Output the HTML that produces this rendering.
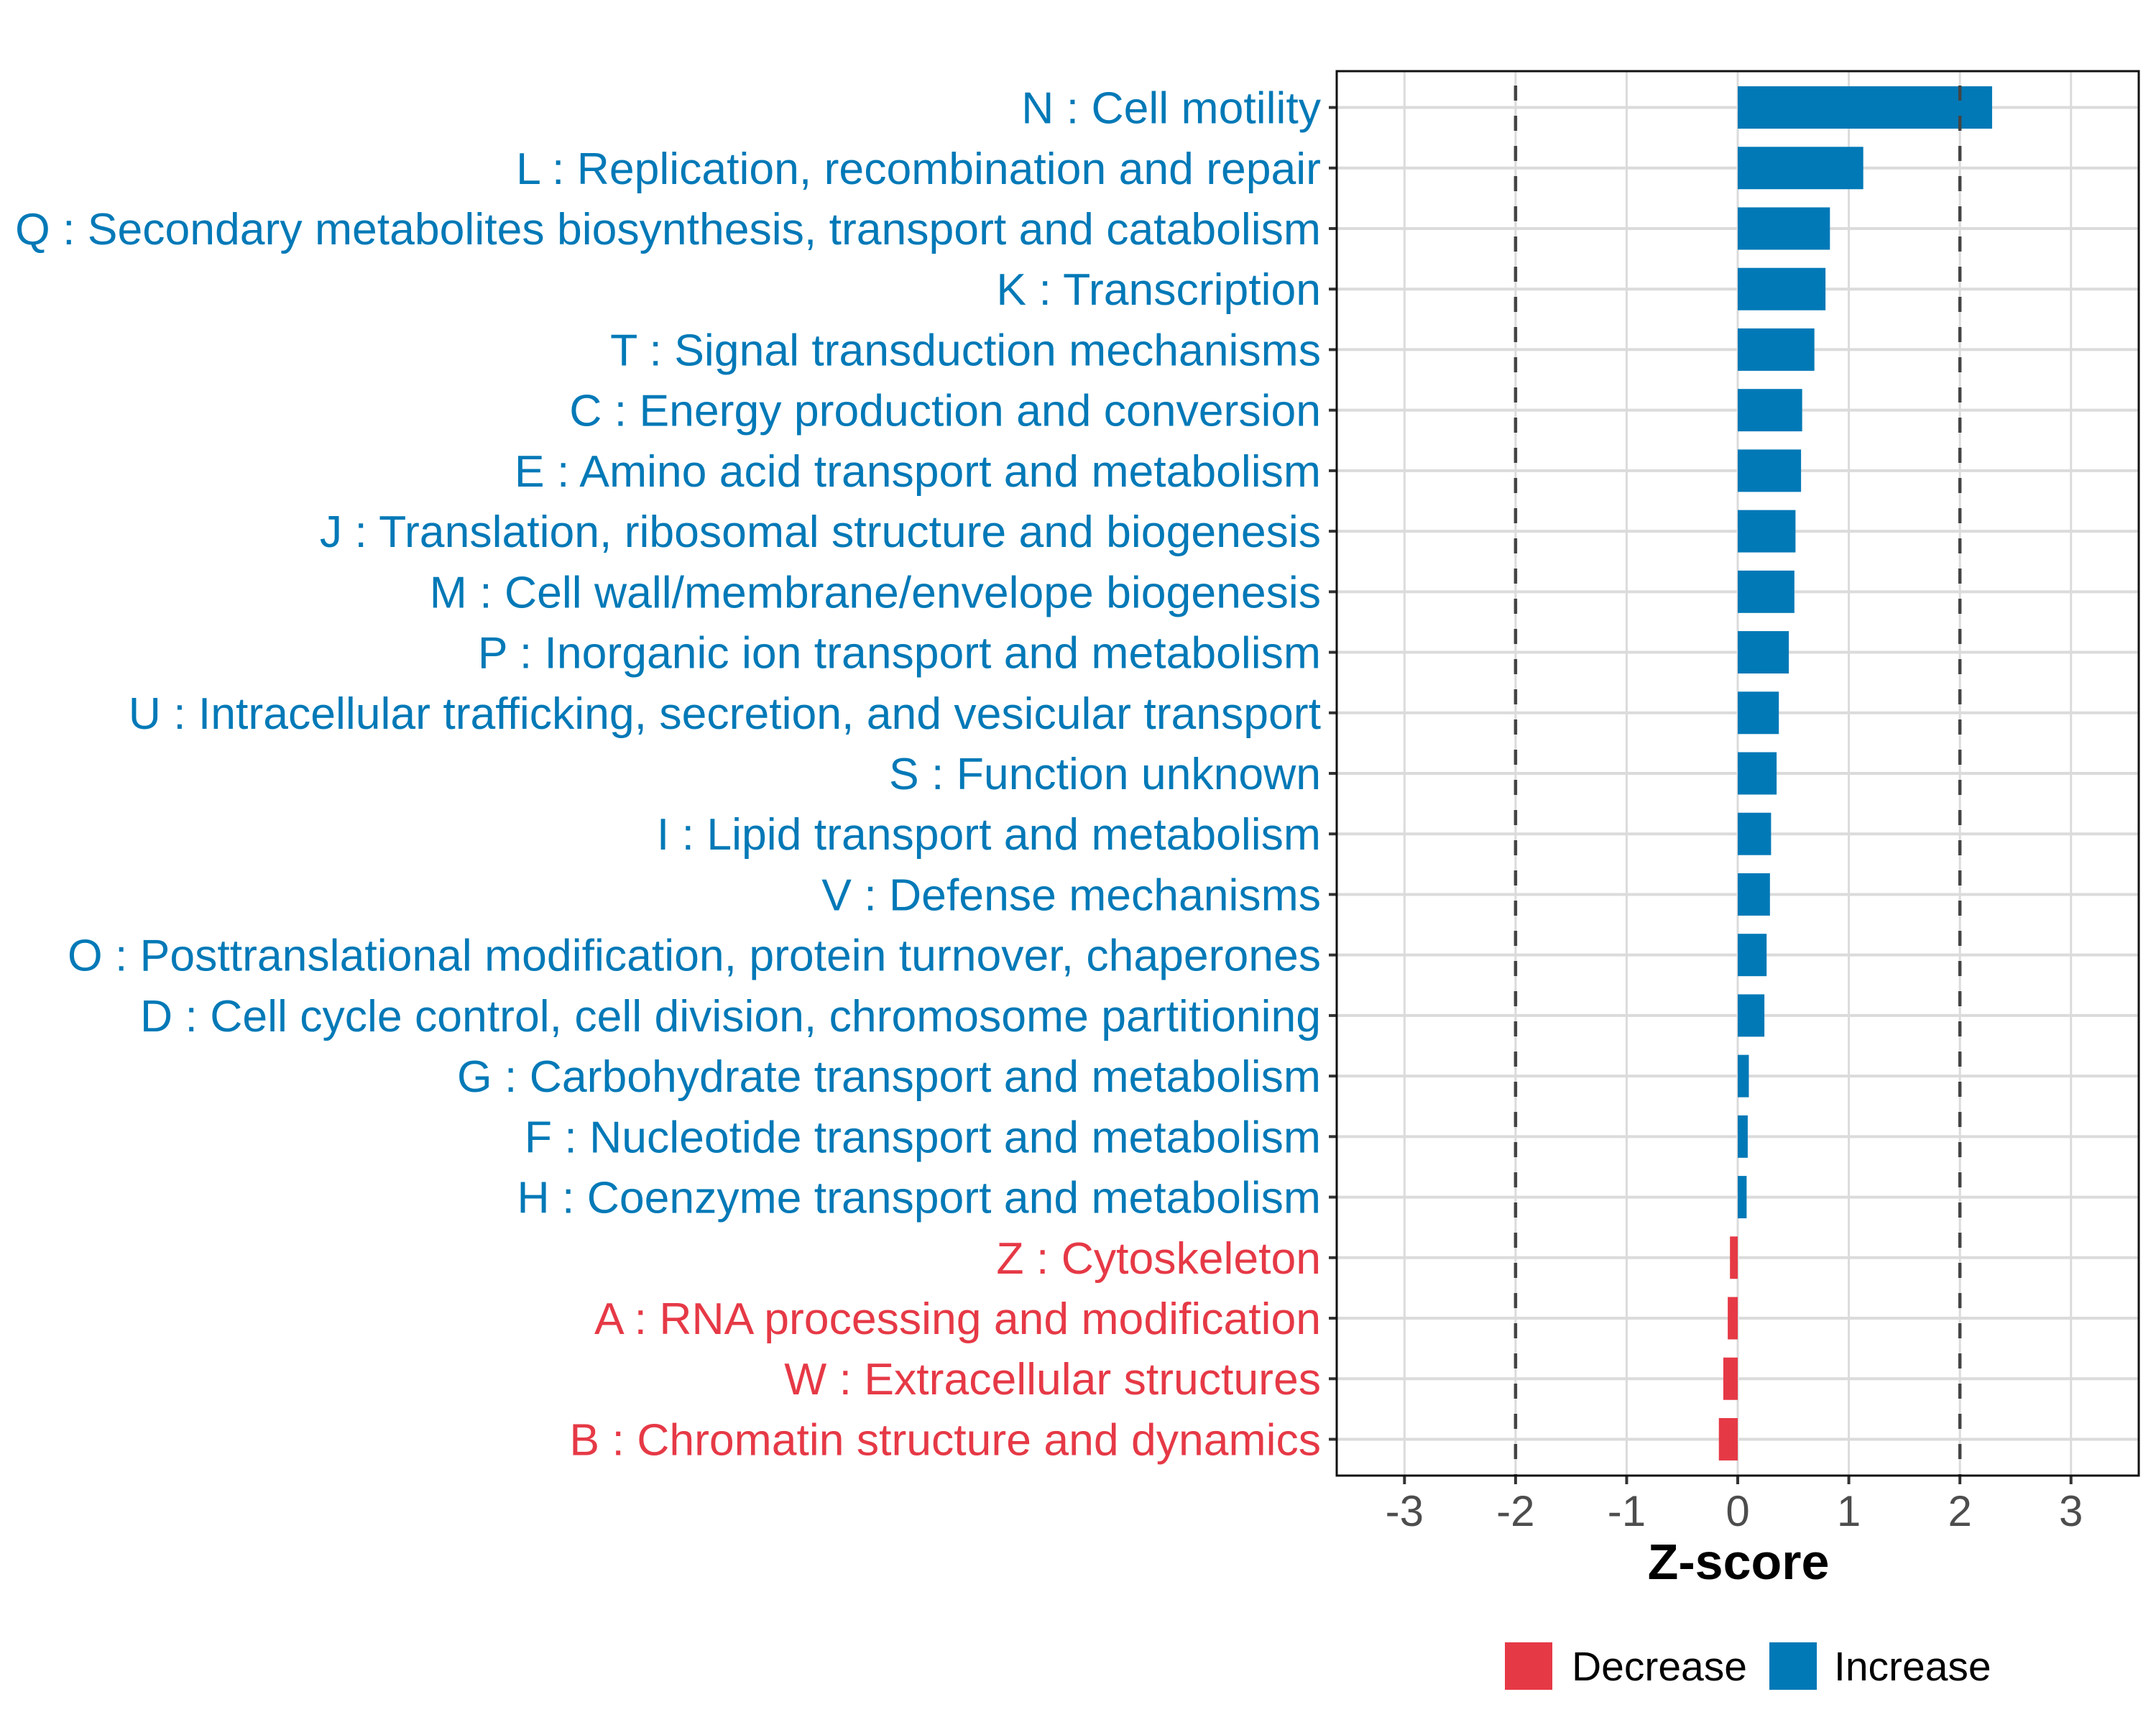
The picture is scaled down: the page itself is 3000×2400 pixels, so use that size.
<!DOCTYPE html>
<html><head><meta charset="utf-8"><style>
html,body{margin:0;padding:0;background:#fff}
svg{display:block}
text{font-family:"Liberation Sans",Arial,sans-serif}
</style></head><body>
<svg id="chart" width="3000" height="2400" viewBox="0 0 3000 2400" xmlns="http://www.w3.org/2000/svg">
<rect x="0" y="0" width="3000" height="2400" fill="#fff"/>
<g id="grid"></g>
<g id="bars"></g>
<g id="ylabels"></g>
<g id="xaxis"></g>
<text x="2419" y="2197" font-size="70" font-weight="bold" text-anchor="middle" fill="#000">Z-score</text>
<g>
<g>
<rect x="2094" y="2285" width="66" height="66" fill="#E63946"/>
<text x="2187" y="2338" font-size="57" fill="#000">Decrease</text>
</g>
<g>
<rect x="2462" y="2285" width="66" height="66" fill="#0279B7"/>
<text x="2552" y="2338" font-size="57" fill="#000">Increase</text>
</g>
</g>
</svg>
<script>
const categories = ["N : Cell motility","L : Replication, recombination and repair","Q : Secondary metabolites biosynthesis, transport and catabolism","K : Transcription","T : Signal transduction mechanisms","C : Energy production and conversion","E : Amino acid transport and metabolism","J : Translation, ribosomal structure and biogenesis","M : Cell wall/membrane/envelope biogenesis","P : Inorganic ion transport and metabolism","U : Intracellular trafficking, secretion, and vesicular transport","S : Function unknown","I : Lipid transport and metabolism","V : Defense mechanisms","O : Posttranslational modification, protein turnover, chaperones","D : Cell cycle control, cell division, chromosome partitioning","G : Carbohydrate transport and metabolism","F : Nucleotide transport and metabolism","H : Coenzyme transport and metabolism","Z : Cytoskeleton","A : RNA processing and modification","W : Extracellular structures","B : Chromatin structure and dynamics"];
const zscores = [2.29,1.13,0.83,0.79,0.69,0.58,0.57,0.52,0.51,0.46,0.37,0.35,0.30,0.29,0.26,0.24,0.10,0.09,0.08,-0.07,-0.09,-0.13,-0.17];
const xTicks = [-3,-2,-1,0,1,2,3];
const xTickLabels = ["-3","-2","-1","0","1","2","3"];
const thresholds = [-2,2];

const NS="http://www.w3.org/2000/svg";
const P={left:1860,right:2976,top:99,bottom:2053};
const xMin=-3.61,xMax=3.61;
function xs(v){return P.left+(v-xMin)/(xMax-xMin)*(P.right-P.left);}
const step=(P.bottom-P.top)/(categories.length+0.2);
function ys(i){return P.top+step*(i+0.6);}
function el(tag,attrs,parent){const e=document.createElementNS(NS,tag);for(const k in attrs)e.setAttribute(k,attrs[k]);parent.appendChild(e);return e;}
const grid=document.getElementById('grid'),bars=document.getElementById('bars'),yl=document.getElementById('ylabels'),xa=document.getElementById('xaxis'),svg=document.getElementById('chart');
xTicks.forEach(t=>{const l=el('line',{x1:xs(t),x2:xs(t),y1:P.top,y2:P.bottom,stroke:'#DBDBDB','stroke-width':3},grid);

});
categories.forEach((c,i)=>{const l=el('line',{x1:P.left,x2:P.right,y1:ys(i),y2:ys(i),stroke:'#DBDBDB','stroke-width':4},grid);

});
const bh=step*0.7;
zscores.forEach((v,i)=>{const x0=xs(0),x1=xs(v);
const r=el('rect',{x:Math.min(x0,x1),y:ys(i)-bh/2,width:Math.abs(x1-x0),height:bh,fill:v>=0?'#0279B7':'#E63946'},bars);


const t=el('text',{x:P.left-22,y:ys(i)+22,'font-size':62.5,'text-anchor':'end',fill:v>=0?'#0279B7':'#E63946'},yl);
t.textContent=categories[i];


const tk=el('line',{x1:P.left-11,x2:P.left,y1:ys(i),y2:ys(i),stroke:'#333','stroke-width':4},yl);

});
thresholds.forEach(t=>{const l=el('line',{x1:xs(t),x2:xs(t),y1:P.top,y2:P.bottom,stroke:'#444','stroke-width':4.5,'stroke-dasharray':'21 21','stroke-dashoffset':'-20'},svg);

});
const frame=el('rect',{x:P.left,y:P.top,width:P.right-P.left,height:P.bottom-P.top,fill:'none',stroke:'#111','stroke-width':3},svg);


xTicks.forEach((t,i)=>{const tk=el('line',{x1:xs(t),x2:xs(t),y1:P.bottom,y2:P.bottom+12,stroke:'#333','stroke-width':4},xa);


const tl=el('text',{x:xs(t),y:P.bottom+70,'font-size':60,'text-anchor':'middle',fill:'#4D4D4D'},xa);
tl.textContent=xTickLabels[i];

});
</script>
</body></html>
